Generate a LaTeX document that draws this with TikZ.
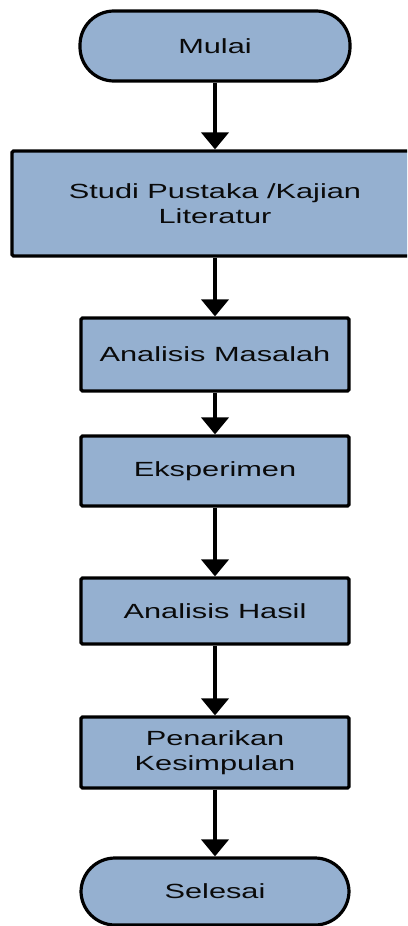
\documentclass[tikz,border=0pt]{standalone}
\usepackage{fontspec}
\setmainfont[FakeStretch=1.5]{Liberation Sans}
\usetikzlibrary{arrows.meta}
\definecolor{boxfill}{RGB}{149,176,208}
\definecolor{txt}{RGB}{10,10,10}
\begin{document}
\begin{tikzpicture}[x=1pt,y=1pt,
  base/.style={draw=black,line width=3.2pt,fill=boxfill,text=txt,align=center,
    font=\fontsize{20.5}{25}\selectfont,inner sep=0pt,minimum width=268pt},
  procbox/.style={base,rounded corners=1.5pt},
  termbox/.style={base,rounded corners=34pt},
  arr/.style={line width=4pt,-{Triangle[width=27pt,length=17pt]}}]
\clip (0,0) rectangle (407,-926);
\fill[white] (0,0) rectangle (407,-926);
\node[termbox,minimum width=270pt,minimum height=70pt] (mulai) at (215,-46) {Mulai};
\node[procbox,minimum width=406pt,minimum height=105pt] (studi) at (215,-203.5) {Studi Pustaka /Kajian\\Literatur};
\node[procbox,minimum height=73pt] (masalah) at (215,-354.5) {Analisis Masalah};
\node[procbox,minimum height=70pt] (eksp) at (215,-471) {Eksperimen};
\node[procbox,minimum height=66pt] (hasil) at (215,-611) {Analisis Hasil};
\node[procbox,minimum height=71pt] (tarik) at (215,-752.5) {Penarikan\\Kesimpulan};
\node[termbox,minimum height=67pt] (selesai) at (215,-891.5) {Selesai};
\draw[arr] (mulai) -- (studi);
\draw[arr] (studi) -- (masalah);
\draw[arr] (masalah) -- (eksp);
\draw[arr] (eksp) -- (hasil);
\draw[arr] (hasil) -- (tarik);
\draw[arr] (tarik) -- (selesai);
\end{tikzpicture}
\end{document}
